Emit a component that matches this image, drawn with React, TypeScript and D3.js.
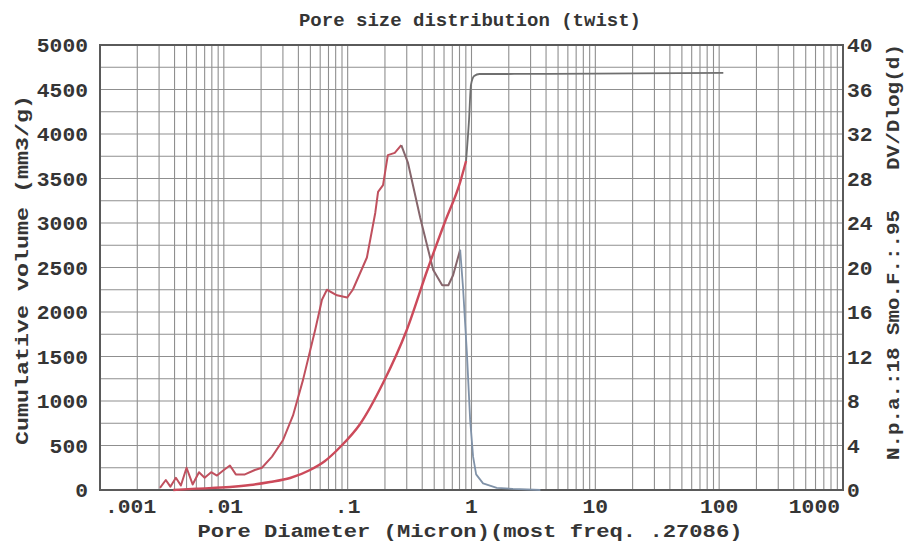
import React from "react";
import * as d3 from "d3";

const cumX = [0.0039, 0.006, 0.0112, 0.0163, 0.0236, 0.0343, 0.0497, 0.0656, 0.087, 0.126, 0.193, 0.30, 0.44, 0.61, 0.81, 0.904, 0.955, 0.99, 1.05, 1.16, 4.3, 108];
const cumY = [0, 15, 34, 56, 90, 135, 225, 326, 483, 742, 1202, 1798, 2472, 3011, 3460, 3697, 4157, 4551, 4652, 4674, 4675, 4686];

const difX = [0.00305, 0.0034, 0.0037, 0.0041, 0.0045, 0.0050, 0.0056, 0.0063, 0.0070, 0.0079, 0.0088, 0.010, 0.0112, 0.0125, 0.0148, 0.0178, 0.0203, 0.0245, 0.0301, 0.0362, 0.0436, 0.0547, 0.062, 0.068, 0.082, 0.099, 0.11, 0.143, 0.167, 0.176, 0.193, 0.211, 0.24, 0.271, 0.307, 0.385, 0.49, 0.58, 0.65, 0.71, 0.81, 0.854, 0.918, 0.975, 1.03, 1.09, 1.24, 1.6, 2.16, 3.6];
const difY = [0.2, 0.9, 0.3, 1.1, 0.4, 2.0, 0.5, 1.6, 1.1, 1.6, 1.3, 1.8, 2.2, 1.4, 1.4, 1.8, 2.0, 3.0, 4.5, 6.7, 9.9, 14.4, 17.1, 18.0, 17.5, 17.3, 18.0, 20.9, 24.9, 26.8, 27.4, 30.1, 30.3, 31.0, 29.4, 24.5, 19.8, 18.4, 18.4, 19.3, 21.6, 18.2, 12.3, 6.3, 3.0, 1.4, 0.6, 0.2, 0.1, 0];

const xTicks = [0.001, 0.01, 0.1, 1, 10, 100, 1000];
const xTickLabels = [".001", ".01", ".1", "1", "10", "100", "1000"];
const leftTicks = [0, 500, 1000, 1500, 2000, 2500, 3000, 3500, 4000, 4500, 5000];
const rightTicks = [0, 4, 8, 12, 16, 20, 24, 28, 32, 36, 40];

const title = "Pore size distribution (twist)";
const xTitle = "Pore Diameter  (Micron)(most freq. .27086)";
const yLeftTitle = "Cumulative volume (mm3/g)";
const yRightNote = "N.p.a.:18 Smo.F.:.95";
const yRightTitle = "DV/Dlog(d)";

const W = 911, H = 544;
const L = 100, R = 843, T = 45, B = 490;
const FONT = "'Liberation Mono', 'DejaVu Sans Mono', monospace";
const TXT = "#353535";
const CH = 12.8;

function seg(xs: number[], ys: number[], lo: number, hi: number) {
  const out: [number, number][] = [];
  for (let i = 0; i < xs.length; i++) if (xs[i] >= lo && xs[i] <= hi) out.push([xs[i], ys[i]]);
  return out;
}

export default function App() {
  const x = d3.scaleLog().domain([0.001, 1000]).range([L, R]);
  const yL = d3.scaleLinear().domain([0, 5000]).range([B, T]);
  const yR = d3.scaleLinear().domain([0, 40]).range([B, T]);

  const vGrid: number[] = [];
  for (let e = -3; e <= 2; e++) for (let k = 1; k <= 9; k++) vGrid.push(k * Math.pow(10, e));
  vGrid.push(1000);
  const hGrid = d3.range(0, 5001, 250);

  const lineL = d3.line<[number, number]>().x(d => x(d[0])).y(d => yL(d[1])).curve(d3.curveMonotoneX);
  const lineR = d3.line<[number, number]>().x(d => x(d[0])).y(d => yR(d[1])).curve(d3.curveLinear);

  const cumA = seg(cumX, cumY, 0, 0.91);
  const cumB = seg(cumX, cumY, 0.9, 1000);
  const difA = seg(difX, difY, 0, 0.28);
  const difB = seg(difX, difY, 0.27, 0.82);
  const difC = seg(difX, difY, 0.8, 1000);

  return (
    <svg width={W} height={H} style={{ display: "block", position: "absolute", left: 0, top: 0, background: "#fff" }}>
      <rect x={0} y={0} width={W} height={H} fill="#fff" />
      <g stroke="#8f8f8f" strokeWidth={1.1}>
        {vGrid.map((v, i) => (
          <line key={"v" + i} x1={x(v)} x2={x(v)} y1={T} y2={B} />
        ))}
        {hGrid.map((v, i) => (
          <line key={"h" + i} x1={L} x2={R} y1={yL(v)} y2={yL(v)} />
        ))}
      </g>
      <rect x={L} y={T} width={R - L} height={B - T} fill="none" stroke="#5a5a5a" strokeWidth={2} />

      <path d={lineR(difA) || ""} fill="none" stroke="#c0505e" strokeWidth={2} strokeLinejoin="round" />
      <path d={lineR(difB) || ""} fill="none" stroke="#86666c" strokeWidth={2} strokeLinejoin="round" />
      <path d={lineR(difC) || ""} fill="none" stroke="#8092a8" strokeWidth={1.8} strokeLinejoin="round" />
      <path d={lineL(cumA) || ""} fill="none" stroke="#cc4a5a" strokeWidth={2.4} strokeLinejoin="round" />
      <path d={lineL(cumB) || ""} fill="none" stroke="#6f6f6f" strokeWidth={1.8} strokeLinejoin="round" />

      <g fontFamily={FONT} fontWeight="bold" fontSize={20} fill={TXT}>
        <text x={470} y={26} textAnchor="middle" fontSize={19}>{title}</text>
        {leftTicks.map(v => (
          <text key={"l" + v} x={88} y={yL(v) + 7} textAnchor="end"
            textLength={String(v).length * CH} lengthAdjust="spacingAndGlyphs">{String(v)}</text>
        ))}
        {rightTicks.map(v => (
          <text key={"r" + v} x={847} y={yR(v) + 7} textAnchor="start"
            textLength={String(v).length * CH} lengthAdjust="spacingAndGlyphs">{String(v)}</text>
        ))}
        {xTicks.map((v, i) => {
          const first = i === 0, last = i === xTicks.length - 1;
          const lab = xTickLabels[i];
          return (
            <text key={"x" + v} x={first ? x(v) + 5 : last ? x(v) - 3 : x(v)} y={513}
              textAnchor={first ? "start" : last ? "end" : "middle"}
              textLength={lab.length * CH} lengthAdjust="spacingAndGlyphs">{lab}</text>
          );
        })}
        <text x={470} y={537} textAnchor="middle" fontSize={19} textLength={545} lengthAdjust="spacingAndGlyphs">{xTitle}</text>
        <text transform="translate(28,270) rotate(-90)" textAnchor="middle" fontSize={19} textLength={350} lengthAdjust="spacingAndGlyphs">{yLeftTitle}</text>
        <text transform="translate(899,335) rotate(-90)" textAnchor="middle" fontSize={19} textLength={250} lengthAdjust="spacingAndGlyphs">{yRightNote}</text>
        <text transform="translate(899,107) rotate(-90)" textAnchor="middle" fontSize={19} textLength={126} lengthAdjust="spacingAndGlyphs">{yRightTitle}</text>
      </g>
    </svg>
  );
}
